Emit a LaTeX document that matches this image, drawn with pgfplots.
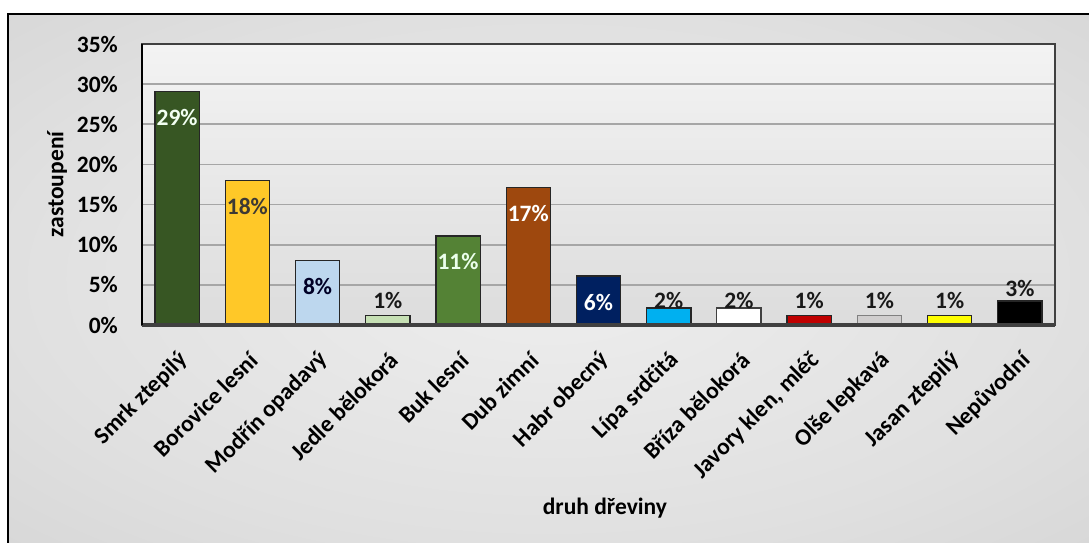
\documentclass[border=0pt]{standalone}
\usepackage{fontspec}
\setmainfont{Carlito}
\usepackage{pgfplots}
\pgfplotsset{compat=1.18}
\definecolor{cSmrk}{HTML}{375623}
\definecolor{cBor}{HTML}{FFC828}
\definecolor{cMod}{HTML}{BDD7EE}
\definecolor{cJed}{HTML}{C6E0B4}
\definecolor{cBuk}{HTML}{548235}
\definecolor{cDub}{HTML}{9E480E}
\definecolor{cHabr}{HTML}{002060}
\definecolor{cLip}{HTML}{00B0F0}
\definecolor{cBri}{HTML}{FFFFFF}
\definecolor{cJav}{HTML}{C00000}
\definecolor{cOls}{HTML}{D0CECE}
\definecolor{cJas}{HTML}{FFFF00}
\definecolor{cNep}{HTML}{000000}
\definecolor{edge}{HTML}{262626}
\definecolor{axc}{HTML}{404040}
\definecolor{gridc}{HTML}{A6A6A6}
\definecolor{bgA}{HTML}{EEEEEE}
\definecolor{bgB}{HTML}{E0E0E0}
\definecolor{bgC}{HTML}{CDCDCD}
\definecolor{bgD}{HTML}{C0C0C0}
\pgfdeclareradialshading{chartbg}{\pgfpoint{0bp}{0bp}}{color(0bp)=(bgA); color(25bp)=(bgB); color(50bp)=(bgC); color(71bp)=(bgD)}
\newcommand{\cf}{\fontsize{23.5bp}{27bp}\selectfont\bfseries}
\pgfplotsset{
  mybar/.style={ybar, bar width=0.63, bar shift=0pt, draw=edge, line width=1.3bp, fill=#1},
  inlab/.style n args={2}{nodes near coords={#1}, nodes near coords style={anchor=center, yshift=-26bp, font=\cf, text=#2}},
  outlab/.style n args={2}{nodes near coords={#1}, nodes near coords style={anchor=center, yshift=#2, font=\cf, text=black!90}},
}
\begin{document}
\begin{tikzpicture}
\useasboundingbox (0,0) rectangle (1089bp,543bp);
\fill[white] (0,0) rectangle (1089bp,543bp);
\shade[shading=chartbg] (8bp,0) rectangle (1089bp,529bp);
\draw[black, line width=1.5bp] (8bp,0) -- (8bp,529bp) -- (1089bp,529bp);
\begin{axis}[
  at={(142bp,218bp)}, anchor=south west,
  width=913bp, height=281bp, scale only axis,
  xmin=-0.5, xmax=12.5, ymin=0, ymax=35,
  ytick={0,5,...,35},
  yticklabel={\pgfmathprintnumber{\tick}\%},
  /pgf/number format/assume math mode=true,
  xtick={0,...,12},
  xticklabels={Smrk ztepilý, Borovice lesní, Modřín opadavý, Jedle bělokorá, Buk lesní, Dub zimní, Habr obecný, Lípa srdčitá, Bříza bělokorá, {Javory klen, mléč}, Olše lepkavá, Jasan ztepilý, Nepůvodní},
  ticklabel style={font=\cf},
  xticklabel style={xshift=8bp, yshift=-30bp, rotate=45, anchor=east, inner sep=2bp},
  yticklabel style={anchor=east, inner sep=0pt, xshift=-24bp},
  tick style={draw=none},
  ymajorgrids,
  major grid style={draw=gridc, line width=1.6bp},
  axis line style={draw=axc, line width=1.3bp},
  axis background/.style={shade, top color=bgA!70!white, bottom color=bgB!80!bgC},
  ylabel={zastoupení},
  xlabel={druh dřeviny},
  label style={font=\cf},
  ylabel style={at={(axis description cs:-0.093,0.5)}, anchor=center, rotate=0},
  xlabel style={at={(axis description cs:0.507,-0.651)}, anchor=center},
  clip=false,
]
\addplot[mybar=cSmrk, inlab={29\%}{white!95!green}] coordinates {(0,29.1)};
\addplot[mybar=cBor, inlab={18\%}{black!80!yellow!60!black}] coordinates {(1,18.0)};
\addplot[mybar=cMod, inlab={8\%}{black!85!blue}] coordinates {(2,8.0)};
\addplot[mybar=cJed, outlab={1\%}{15.7bp}] coordinates {(3,1.15)};
\addplot[mybar=cBuk, inlab={11\%}{white!92!green}] coordinates {(4,11.1)};
\addplot[mybar=cDub, inlab={17\%}{white}] coordinates {(5,17.1)};
\addplot[mybar=cHabr, inlab={6\%}{white}] coordinates {(6,6.1)};
\addplot[mybar=cLip, outlab={2\%}{8bp}] coordinates {(7,2.1)};
\addplot[mybar=cBri, draw=axc, outlab={2\%}{8bp}] coordinates {(8,2.1)};
\addplot[mybar=cJav, outlab={1\%}{15.7bp}] coordinates {(9,1.15)};
\addplot[mybar=cOls, draw=gray, outlab={1\%}{15.7bp}] coordinates {(10,1.15)};
\addplot[mybar=cJas, outlab={1\%}{15.7bp}] coordinates {(11,1.15)};
\addplot[mybar=cNep, outlab={3\%}{12bp}] coordinates {(12,3.0)};
\draw[draw=axc, line width=3bp] (rel axis cs:0,0) -- (rel axis cs:1,0);
\draw[draw=black, line width=1.5bp] (rel axis cs:0,0) -- (rel axis cs:0,1);
\end{axis}
\end{tikzpicture}
\end{document}
